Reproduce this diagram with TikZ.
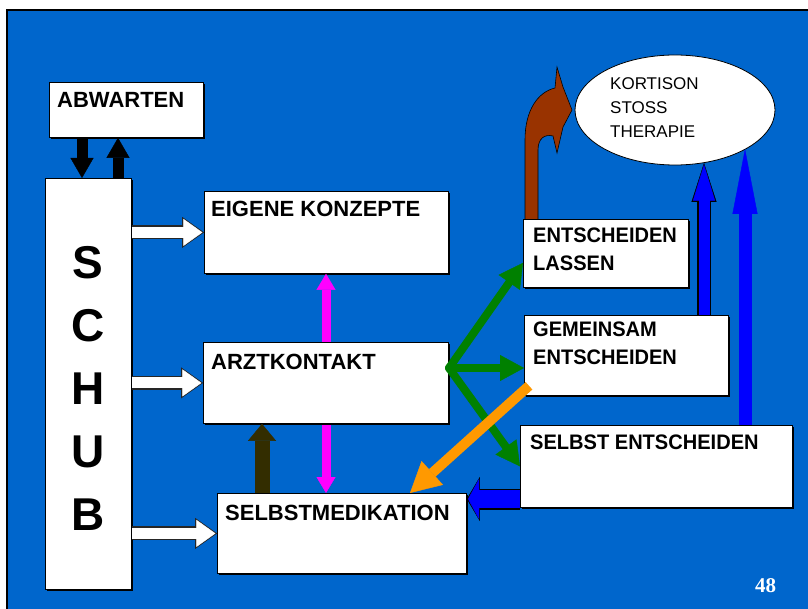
\documentclass[tikz,border=0pt]{standalone}
\usepackage{fontspec}
\setmainfont{Liberation Sans}
\newfontfamily\serifnum{Liberation Serif}
\newfontfamily\condsans[FakeStretch=0.955]{Liberation Sans}
\usetikzlibrary{arrows.meta,shapes.geometric,shadows,calc}
\definecolor{bgblue}{RGB}{0,102,204}
\definecolor{brn}{RGB}{153,51,0}
\definecolor{olv}{RGB}{51,45,0}
\definecolor{grn}{RGB}{0,128,0}
\definecolor{org}{RGB}{255,153,0}
\definecolor{mag}{RGB}{255,0,255}
\definecolor{blu}{RGB}{0,0,255}
\tikzset{
  boxs/.style={draw=black, line width=0.8pt, fill=white, inner sep=0pt, anchor=north west,
    drop shadow={shadow xshift=1.6pt, shadow yshift=-1.6pt, fill=black, opacity=1}},
  lbl/.style={anchor=base west, inner sep=0pt, font=\fontsize{22}{28}\selectfont\bfseries},
  lblr/.style={anchor=base west, inner sep=0pt, font=\fontsize{21}{27.5}\condsans\bfseries},
  lbltwo/.style={anchor=north west, inner sep=0pt, align=left, font=\fontsize{21}{27.5}\condsans\bfseries},
  blkarr/.style={line width=11pt, draw=black, -{Triangle[length=20pt,width=23pt,line width=0.4pt]}},
  wout/.style={line width=14pt, draw=black!85, -{Triangle[length=22pt,width=31pt,line width=0.4pt]}},
  win/.style={line width=11pt, draw=white, shorten >=1.6pt, -{Triangle[length=19pt,width=27pt,line width=0.4pt]}},
  magarr/.style={line width=9pt, draw=mag, {Triangle[length=16pt,width=19pt,line width=0.4pt]}-{Triangle[length=16pt,width=19pt,line width=0.4pt]}},
  olvarr/.style={line width=15pt, draw=olv, -{Triangle[length=17pt,width=28pt,line width=0.4pt]}},
  grnarr/.style={line width=8pt, draw=grn, line cap=round, -{Triangle[length=24pt,width=26pt,line width=0.4pt]}},
  orgarr/.style={line width=10pt, draw=org, -{Triangle[length=30pt,width=32pt,line width=0.4pt]}},
}
\begin{document}
\begin{tikzpicture}[x=1pt,y=-1pt]
\useasboundingbox (0,0) rectangle (808,609);
\fill[white] (0,0) rectangle (808,609);
\fill[bgblue] (7,10) rectangle (808,609);
\draw[black, line width=1.2pt] (7,609) -- (7,10) -- (808,10);

% brown curved arrow (behind the box it starts from)
\filldraw[fill=brn, draw=black, line width=0.6pt]
  (525,221) -- (525,140) .. controls (525,110) and (538,92) .. (555,88)
  -- (557,67) -- (563,87) -- (572,110) -- (563,127) -- (557,153) -- (553,136)
  .. controls (545,134) and (538,138) .. (538,150) -- (538,221) -- cycle;

% boxes
\node[boxs, minimum width=154pt, minimum height=55pt] (abw) at (49,82) {};
\node[boxs, minimum width=86pt, minimum height=411pt] (schub) at (45,178) {};
\node[boxs, minimum width=244pt, minimum height=82pt] (eig) at (204,191) {};
\node[boxs, minimum width=249pt, minimum height=80pt] (selbm) at (217,493) {};
\node[boxs, minimum width=165pt, minimum height=68pt] (lassen) at (523,219) {};
\node[boxs, minimum width=204pt, minimum height=80pt] (gem) at (524,315) {};
\node[boxs, minimum width=272pt, minimum height=82pt] (selbst) at (520,425) {};
\node[ellipse, draw=black, line width=0.8pt, fill=white, inner sep=0pt,
      minimum width=200pt, minimum height=110pt] (kort) at (675,110) {};

% magenta double arrow passes behind ARZTKONTAKT
\coordinate (xm) at (326,0);
\draw[magarr] (eig.south -| xm) -- (selbm.north -| xm);
\node[boxs, minimum width=245pt, minimum height=81pt] (arzt) at (203,342) {};

% texts
\node[lbl] (tabw) at (57,108) {ABWARTEN};
\node[lbl] (teig) at (211,217) {EIGENE KONZEPTE};
\node[lbl] (tarzt) at (211,370) {ARZTKONTAKT};
\node[lbl] (tselbm) at (225,520) {SELBSTMEDIKATION};
\node[lbltwo] (tlas) at (533,228) {ENTSCHEIDEN\\LASSEN};
\node[lbltwo] (tgem) at (533,322) {GEMEINSAM\\ENTSCHEIDEN};
\node[lblr] (tselbst) at (530,449) {SELBST ENTSCHEIDEN};
\node[anchor=north, inner sep=0pt, align=center, font=\fontsize{46}{63}\selectfont\bfseries] (tschub) at (88,246) {S\\C\\H\\U\\B};
\node[anchor=north west, inner sep=0pt, align=left, font=\fontsize{17}{24}\selectfont] (tkort) at (610,77.8) {KORTISON\\STOSS\\THERAPIE};
\node[anchor=base west, inner sep=0pt, text=white, font=\fontsize{21}{24}\serifnum\bfseries] (pnum) at (755,592) {48};

% black arrows between ABWARTEN and SCHUB
\coordinate (xd) at (82,0);
\coordinate (xu) at (118,0);
\draw[blkarr] (abw.south -| xd) -- (schub.north -| xd);
\draw[blkarr] (schub.north -| xu) -- (abw.south -| xu);

% white arrows from SCHUB
\draw[wout] (schub.east |- eig.west) -- (eig.west);
\draw[win] (schub.east |- eig.west) -- (eig.west);
\draw[wout] (schub.east |- arzt.west) -- (arzt.west);
\draw[win] (schub.east |- arzt.west) -- (arzt.west);
\draw[wout] (schub.east |- selbm.west) -- (selbm.west);
\draw[win] (schub.east |- selbm.west) -- (selbm.west);

% olive arrow
\coordinate (xo) at (262,0);
\draw[olvarr] (selbm.north -| xo) -- (arzt.south -| xo);

% green arrows
\coordinate (g0) at (449,368);
\draw[grnarr] (g0) -- ($(lassen.south west)+(0,-25)$);
\draw[grnarr] (g0) -- (gem.west |- g0);
\draw[grnarr] (g0) -- (selbst.west);

% orange arrow
\coordinate (xor) at (410,0);
\draw[orgarr] ($(gem.south west)+(5,-10)$) -- (selbm.north -| xor);

% blue horizontal arrow
\coordinate (yb) at (0,499);
\draw[line width=21pt, draw=black, -{Triangle[length=13pt,width=44pt,line width=0.4pt]}] (selbst.west |- yb) -- (selbm.east |- yb);
\draw[line width=18pt, draw=blu, shorten >=1.2pt, -{Triangle[length=11pt,width=40pt,line width=0.4pt]}] (selbst.west |- yb) -- (selbm.east |- yb);

% blue vertical arrows to the ellipse
\coordinate (t1) at (704,163);
\coordinate (t2) at (745,149);
\draw[line width=14pt, draw=black, -{Triangle[length=39pt,width=25pt,line width=0.4pt]}] (gem.north -| t1) -- (t1);
\draw[line width=11pt, draw=blu, shorten >=1.6pt, -{Triangle[length=36pt,width=22pt,line width=0.4pt]}] (gem.north -| t1) -- (t1);
\draw[line width=13pt, draw=blu, -{Triangle[length=65pt,width=25pt,line width=0.4pt]}] (selbst.north -| t2) -- (t2);
\end{tikzpicture}
\end{document}
